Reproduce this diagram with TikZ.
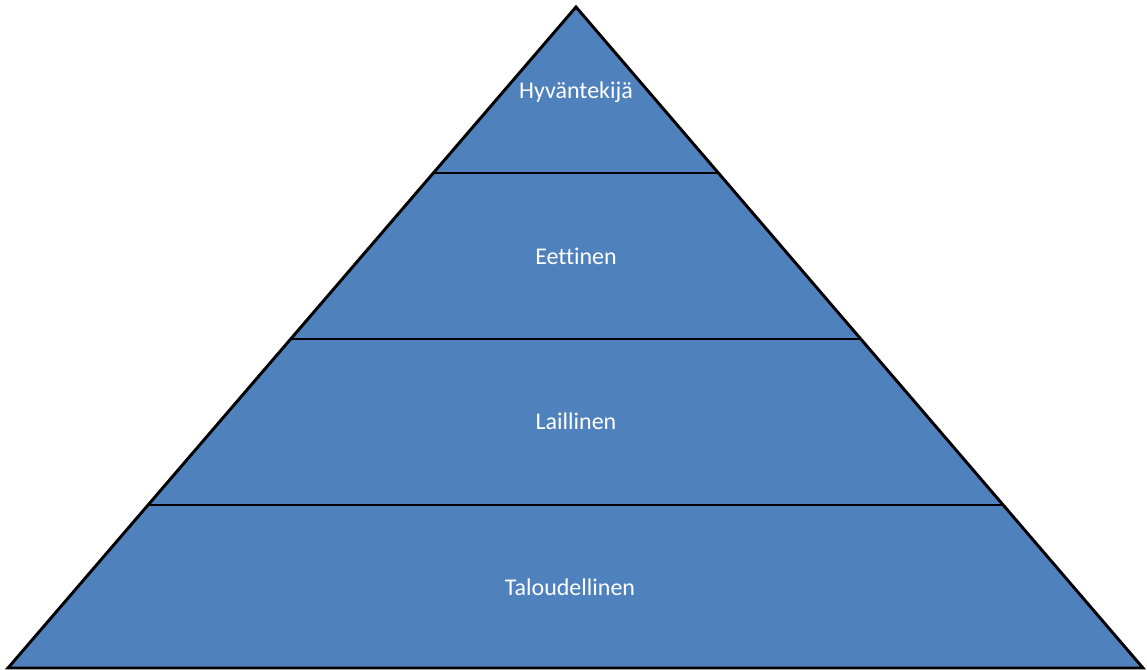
\documentclass[tikz,border=0pt]{standalone}
\usepackage{fontspec}
\setmainfont[Ligatures=NoCommon]{Carlito}
\usetikzlibrary{calc}
\definecolor{pyramidblue}{HTML}{4F81BD}
\tikzset{
  level/.style={text=white, font=\fontsize{18}{22}\selectfont},
  edge/.style={line width=2.2pt}
}
\begin{document}
\begin{tikzpicture}[x=0.75pt,y=-0.75pt]
  \useasboundingbox (0,0) rectangle (1147,670);
  \coordinate (T) at (576,7);
  \coordinate (L) at (8,668);
  \coordinate (R) at (1143,668);
\fill[pyramidblue] (T)--(L)--(R)--cycle;
\draw[edge] ($(T)!0.2511!(L)$) coordinate (L1) -- ($(T)!0.2511!(R)$) coordinate (R1);
\draw[edge] ($(T)!0.5023!(L)$) coordinate (L2) -- ($(T)!0.5023!(R)$) coordinate (R2);
\draw[edge] ($(T)!0.7534!(L)$) coordinate (L3) -- ($(T)!0.7534!(R)$) coordinate (R3);
\draw[edge, line join=miter] (T)--(L)--(R)--cycle;
\node[level] (hyv) at (576,92) {Hyväntekijä};
\node[level] (eet) at (576,256) {Eettinen};
\node[level] (lai) at (576,421) {Laillinen};
\node[level] (tal) at (570,587) {Taloudellinen};
\end{tikzpicture}
\end{document}
